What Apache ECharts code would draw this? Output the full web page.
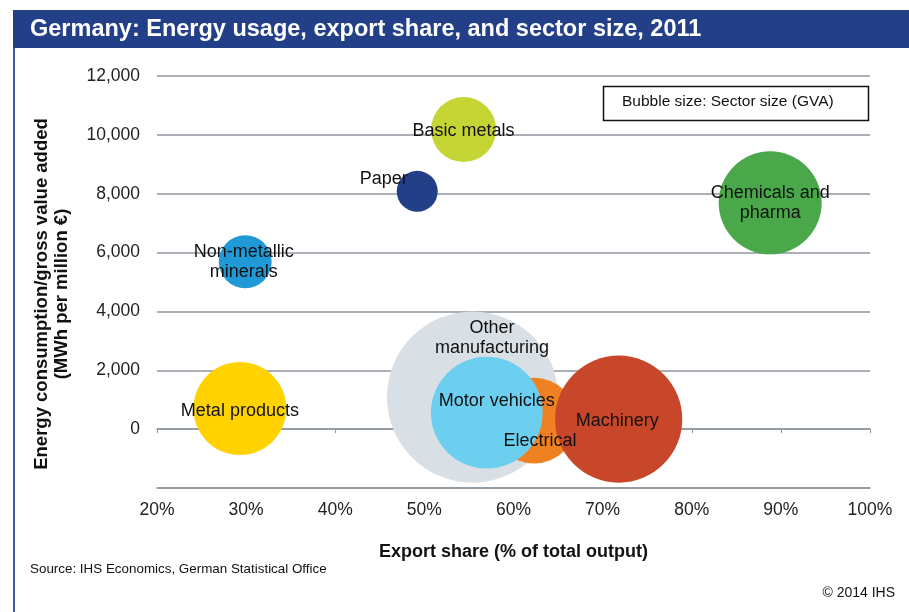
<!DOCTYPE html>
<html>
<head>
<meta charset="utf-8">
<script src="https://cdn.jsdelivr.net/npm/echarts@6/dist/echarts.min.js"></script>
<style>
  html, body { margin: 0; padding: 0; background: #fff; }
  #main { width: 909px; height: 612px; }
</style>
</head>
<body>
<div id="main"></div>
<script>
// sectors, drawn in this order (back to front)
const sectors = ['Other manufacturing', 'Electrical', 'Motor vehicles', 'Machinery', 'Metal products',
    'Non-metallic minerals', 'Paper', 'Basic metals', 'Chemicals and pharma']
const sectorLabels = ['Other\nmanufacturing', 'Electrical', 'Motor vehicles', 'Machinery', 'Metal products',
    'Non-metallic\nminerals', 'Paper', 'Basic metals', 'Chemicals and\npharma']
const exportShare = [55.4, 62.3, 57.0, 71.8, 29.3, 29.9, 49.2, 54.4, 88.8] // %
const energyIntensity = [1090, 290, 560, 340, 700, 5690, 8080, 10180, 7690] // MWh per million €
const sectorGVA = [183, 46, 78, 101, 54, 17.5, 10.5, 26.4, 66.3] // relative sector size
const xTicks = [20, 30, 40, 50, 60, 70, 80, 90, 100]
const yTicks = [-2000, 0, 2000, 4000, 6000, 8000, 10000, 12000]

const colors = {
    'Other manufacturing': '#d9e0e5',
    'Electrical': '#f08122',
    'Motor vehicles': '#6dcff0',
    'Machinery': '#c8472a',
    'Metal products': '#ffd200',
    'Non-metallic minerals': '#1f9ad6',
    'Paper': '#233f88',
    'Basic metals': '#c5d534',
    'Chemicals and pharma': '#4aa84a',
}
const labelOffsets = {
    'Other manufacturing': [19.5, -59.5],
    'Electrical': [6, 20],
    'Motor vehicles': [10, -12],
    'Machinery': [-1.5, 1.5],
    'Metal products': [0, 2],
    'Non-metallic minerals': [-1.5, 0.5],
    'Paper': [-33.5, -12],
    'Basic metals': [0, 1.5],
    'Chemicals and pharma': [0, 0.5],
}

const gridColor = '#8e969e'
const font = '"Liberation Sans", Arial, sans-serif'

const chart = echarts.init(document.getElementById('main'), null, { renderer: 'canvas' })

const bubbles = sectors.map((name, i) => ({
    name,
    value: [exportShare[i], energyIntensity[i], sectorGVA[i]],
    symbolSize: 12.65 * Math.sqrt(sectorGVA[i]),
    itemStyle: { color: colors[name], opacity: 1 },
    label: { formatter: sectorLabels[i], offset: labelOffsets[name] },
}))

chart.setOption({
    animation: false,
    textStyle: { fontFamily: font },
    graphic: [
        { type: 'rect', shape: { x: 13, y: 10, width: 896, height: 38 }, style: { fill: '#233f88' } },
        { type: 'rect', shape: { x: 13, y: 48, width: 2, height: 564 }, style: { fill: '#3a5aa8' } },
        {
            type: 'text', left: 30, top: 18,
            style: { text: 'Germany: Energy usage, export share, and sector size, 2011', fill: '#fff',
                font: 'bold 23.5px "Liberation Sans Narrow", "Liberation Sans", Arial, sans-serif' },
        },
        { type: 'rect', shape: { x: 603.5, y: 86.5, width: 265, height: 34 }, style: { fill: '#fff', stroke: '#111', lineWidth: 1.5 }, z: 10 },
        {
            type: 'text', left: 622, top: 94, z: 11,
            style: { text: 'Bubble size: Sector size (GVA)', fill: '#111', font: '15.5px ' + font },
        },
        {
            type: 'text', x: 52, y: 294, rotation: Math.PI / 2,
            style: {
                text: 'Energy consumption/gross value added\n(MWh per million €)', fill: '#111',
                font: 'bold 18.5px ' + font, lineHeight: 20, align: 'center', verticalAlign: 'middle',
            },
        },
        {
            type: 'text', left: 30, top: 563,
            style: { text: 'Source: IHS Economics, German Statistical Office', fill: '#111', font: '13.4px ' + font },
        },
        {
            type: 'text', right: 14, top: 586,
            style: { text: '© 2014 IHS', fill: '#111', font: '14px ' + font },
        },
    ],
    grid: { left: 157, right: 39, top: 76, bottom: 124 },
    xAxis: [
        {
            type: 'value', min: xTicks[0], max: xTicks[xTicks.length - 1], interval: 10,
            name: 'Export share (% of total output)', nameLocation: 'middle', nameGap: 55,
            nameTextStyle: { color: '#111', fontSize: 18, fontWeight: 'bold', fontFamily: font },
            axisLine: { onZero: false, lineStyle: { color: gridColor, width: 1.5 } },
            axisTick: { show: false },
            axisLabel: { color: '#222', fontSize: 17.5, margin: 13, formatter: (v) => v + '%' },
            splitLine: { show: false },
        },
        {
            type: 'value', min: xTicks[0], max: xTicks[xTicks.length - 1], interval: 10,
            position: 'bottom',
            axisLine: { onZero: true, lineStyle: { color: gridColor, width: 1.5 } },
            axisTick: { show: true, length: 4, lineStyle: { color: gridColor } },
            axisLabel: { show: false },
            splitLine: { show: false },
        },
    ],
    yAxis: {
        type: 'value', min: yTicks[0], max: yTicks[yTicks.length - 1], interval: 2000,
        axisLine: { show: false },
        axisTick: { show: false },
        axisLabel: {
            color: '#222', fontSize: 17.5, margin: 17,
            formatter: (v) => (v < 0 ? '' : v.toLocaleString('en-US')),
        },
        splitLine: { lineStyle: { color: gridColor, width: 1.5 } },
    },
    series: [{
        type: 'scatter',
        data: bubbles,
        label: {
            show: true, position: 'inside', color: '#111', fontSize: 18, lineHeight: 20,
            fontFamily: font,
        },
        emphasis: { disabled: true },
    }],
})
</script>
</body>
</html>
